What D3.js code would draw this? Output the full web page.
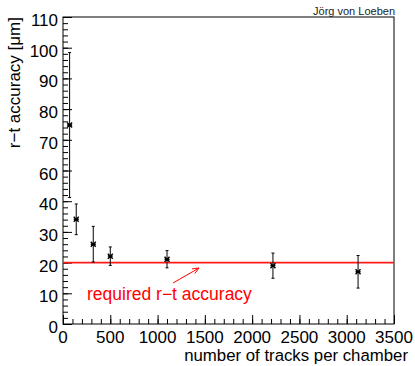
<!DOCTYPE html>
<html>
<head>
<meta charset="utf-8">
<script src="https://cdn.jsdelivr.net/npm/d3@7"></script>
<style>
  body { margin: 0; background: #fff; }
  svg text { font-family: "Liberation Sans", Arial, sans-serif; }
</style>
</head>
<body>
<svg id="chart" width="415" height="366"></svg>
<script>
// measurements (x = number of tracks, y = position on the accuracy axis, err = half error bar)
const tracks = [70, 140, 320, 500, 1100, 2220, 3120];
const accuracy = [64.8, 34.1, 26.0, 22.1, 21.1, 19.0, 17.0];
const errors = [23.6, 5.0, 5.8, 3.0, 2.8, 4.1, 5.3];

const requiredAccuracy = 20;

// y ticks as printed on the original axis (no "50" label)
const yTickValues = [0, 10, 20, 30, 40, 50, 60, 70, 80, 90, 100];
const yTickLabels = ["0", "10", "20", "30", "40", "60", "70", "80", "90", "100", "110"];
const xTickValues = [0, 500, 1000, 1500, 2000, 2500, 3000, 3500];

const padL = 63, padR = 394, padT = 17, padB = 324;

const svg = d3.select("#chart");

const x = d3.scaleLinear().domain([0, 3500]).range([padL, padR]);
const y = d3.scaleLinear().domain([0, 100]).range([padB, padT]);

// frame
svg.append("rect")
  .attr("x", padL).attr("y", padT)
  .attr("width", padR - padL).attr("height", padB - padT)
  .attr("fill", "none").attr("stroke", "#000").attr("stroke-width", 1);

// y axis: major + minor ticks
const yMinor = svg.append("g").attr("transform", "translate(" + padL + ",0)")
  .call(d3.axisRight(y).tickValues(d3.range(0, 100.1, 2)).tickSize(5).tickFormat(""));
yMinor.select(".domain").remove();
const yMajor = svg.append("g").attr("transform", "translate(" + padL + ",0)")
  .call(d3.axisRight(y).tickValues(yTickValues).tickSize(9).tickFormat(""));
yMajor.select(".domain").remove();

svg.append("g").selectAll("text")
  .data(yTickValues)
  .enter()
  .append("text")
  .attr("x", padL - 5)
  .attr("y", d => y(d) + 9)
  .attr("text-anchor", "end")
  .attr("font-size", 17)
  .text((d, i) => yTickLabels[i]);

// x axis: major + minor ticks
const xMinor = svg.append("g").attr("transform", "translate(0," + padB + ")")
  .call(d3.axisTop(x).tickValues(d3.range(0, 3501, 100)).tickSize(5).tickFormat(""));
xMinor.select(".domain").remove();
const xMajor = svg.append("g").attr("transform", "translate(0," + padB + ")")
  .call(d3.axisTop(x).tickValues(xTickValues).tickSize(9).tickFormat(""));
xMajor.select(".domain").remove();

svg.append("g").selectAll("text")
  .data(xTickValues)
  .enter()
  .append("text")
  .attr("x", d => x(d))
  .attr("y", 343)
  .attr("text-anchor", "middle")
  .attr("font-size", 17)
  .text(d => d);

svg.selectAll(".tick line").attr("stroke", "#000");

// axis titles
svg.append("text")
  .attr("x", 408).attr("y", 361)
  .attr("text-anchor", "end")
  .attr("font-size", 16.8)
  .text("number of tracks per chamber");

svg.append("text")
  .attr("transform", "translate(20," + padT + ") rotate(-90)")
  .attr("text-anchor", "end")
  .attr("font-size", 17)
  .text("r\u2212t accuracy [\u03bcm]");

svg.append("text")
  .attr("x", 395).attr("y", 15)
  .attr("text-anchor", "end")
  .attr("font-size", 11)
  .attr("fill", "#222")
  .text("Jörg von Loeben");

// required accuracy line
svg.append("line")
  .attr("x1", padL).attr("x2", padR)
  .attr("y1", y(requiredAccuracy)).attr("y2", y(requiredAccuracy))
  .attr("stroke", "#ff1a1a").attr("stroke-width", 1.6);

svg.append("text")
  .attr("x", 87).attr("y", 300)
  .attr("font-size", 17.5)
  .attr("fill", "#ff0000")
  .text("required r\u2212t accuracy");

// arrow pointing at the line
const ax1 = 173, ay1 = 283, ax2 = 199, ay2 = 268;
const ang = Math.atan2(ay2 - ay1, ax2 - ax1);
svg.append("line")
  .attr("x1", ax1).attr("y1", ay1).attr("x2", ax2).attr("y2", ay2)
  .attr("stroke", "#ff0000").attr("stroke-width", 1);
svg.append("path")
  .attr("d", "M" + (ax2 - 7 * Math.cos(ang - 0.4)) + "," + (ay2 - 7 * Math.sin(ang - 0.4)) +
             "L" + ax2 + "," + ay2 +
             "L" + (ax2 - 7 * Math.cos(ang + 0.4)) + "," + (ay2 - 7 * Math.sin(ang + 0.4)))
  .attr("fill", "none").attr("stroke", "#ff0000").attr("stroke-width", 1);

// error bars
const pts = tracks.map((t, i) => ({ t: t, v: accuracy[i], e: errors[i] }));
const bars = svg.append("g").attr("stroke", "#000").attr("stroke-width", 1);
bars.selectAll(".eb")
  .data(pts)
  .enter()
  .append("line")
  .attr("x1", d => x(d.t)).attr("x2", d => x(d.t))
  .attr("y1", d => y(d.v + d.e)).attr("y2", d => y(d.v - d.e));
bars.selectAll(".capt")
  .data(pts)
  .enter()
  .append("line")
  .attr("x1", d => x(d.t) - 1.5).attr("x2", d => x(d.t) + 1.5)
  .attr("y1", d => y(d.v + d.e)).attr("y2", d => y(d.v + d.e));
bars.selectAll(".capb")
  .data(pts)
  .enter()
  .append("line")
  .attr("x1", d => x(d.t) - 1.5).attr("x2", d => x(d.t) + 1.5)
  .attr("y1", d => y(d.v - d.e)).attr("y2", d => y(d.v - d.e));

// markers (asterisk)
const s = 2.5;
svg.append("g").selectAll("path")
  .data(pts)
  .enter()
  .append("path")
  .attr("d", d => {
    const cx = x(d.t), cy = y(d.v);
    return "M" + (cx - s) + "," + (cy - s) + "L" + (cx + s) + "," + (cy + s) +
           "M" + (cx - s) + "," + (cy + s) + "L" + (cx + s) + "," + (cy - s) +
           "M" + (cx - s) + "," + cy + "L" + (cx + s) + "," + cy;
  })
  .attr("stroke", "#000").attr("stroke-width", 1.4).attr("fill", "none");
</script>
</body>
</html>
